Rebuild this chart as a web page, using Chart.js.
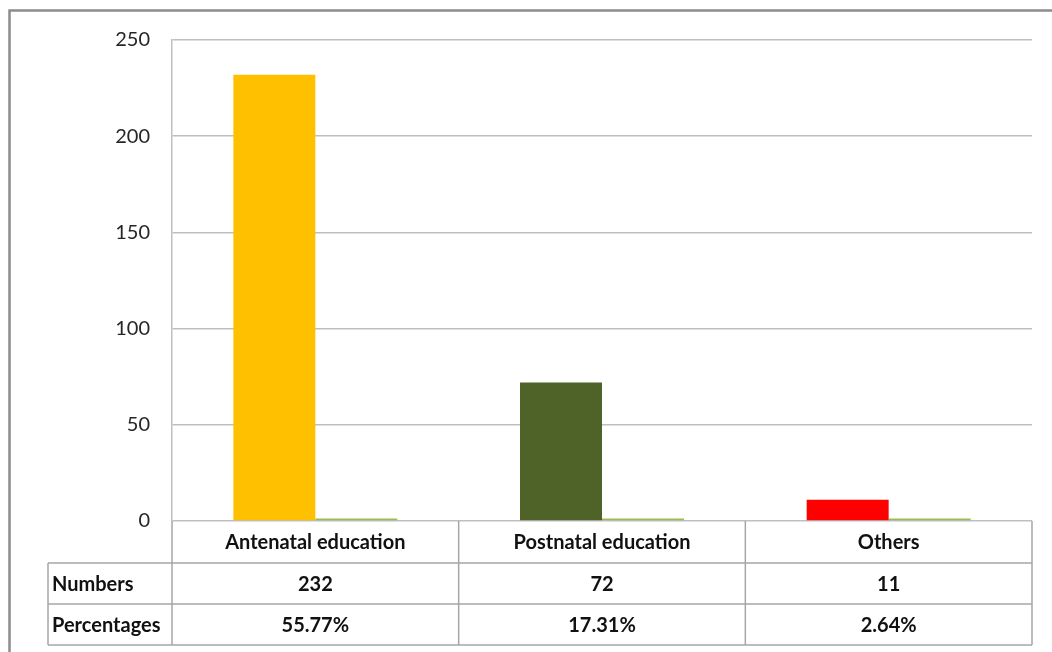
<!DOCTYPE html>
<html>
<head>
<meta charset="utf-8">
<script src="https://cdn.jsdelivr.net/npm/chart.js@4.4.1/dist/chart.umd.min.js"></script>
<style>
  html, body { margin: 0; padding: 0; background: #ffffff; }
  #wrap { width: 1052px; height: 652px; position: relative; }
</style>
</head>
<body>
<div id="wrap"><canvas id="eduChart"></canvas></div>
<script>
// Chart data
const categories = ['Antenatal education', 'Postnatal education', 'Others'];
const numbers = [232, 72, 11];
const percentages = [55.77, 17.31, 2.64];
const barColors = ['#FFC000', '#4F6228', '#FF0000'];
const yTicks = [0, 50, 100, 150, 200, 250];

const FONT = 'Lato, "Open Sans", sans-serif';
const gridColor = '#BFBFBF';

// Outer frame (top + left edges)
const framePlugin = {
  id: 'frame',
  beforeDraw(chart) {
    const ctx = chart.ctx;
    ctx.save();
    ctx.strokeStyle = '#8C8C8C';
    ctx.lineWidth = 2.5;
    ctx.beginPath();
    ctx.moveTo(9.5, 652);
    ctx.lineTo(9.5, 10.5);
    ctx.lineTo(1052, 10.5);
    ctx.stroke();
    ctx.restore();
  }
};

// Data table under the plot, columns follow the x scale
const dataTablePlugin = {
  id: 'dataTable',
  afterDraw(chart) {
    const ctx = chart.ctx;
    const area = chart.chartArea;
    const x = chart.scales.x;
    const colW = (area.right - area.left) / categories.length;
    const edges = categories.map((c, i) => area.left + i * colW);
    edges.push(area.right);
    const labelLeft = 48;
    const rows = [area.bottom, area.bottom + 42, area.bottom + 83, area.bottom + 124];

    ctx.save();
    ctx.strokeStyle = '#A6A6A6';
    ctx.lineWidth = 1.5;
    ctx.beginPath();
    // header row (category names)
    ctx.moveTo(area.left, rows[0]); ctx.lineTo(area.left, rows[3]);
    ctx.moveTo(area.right, rows[0]); ctx.lineTo(area.right, rows[3]);
    edges.slice(1, -1).forEach(e => { ctx.moveTo(e, rows[0]); ctx.lineTo(e, rows[3]); });
    ctx.moveTo(labelLeft, rows[1]); ctx.lineTo(area.right, rows[1]);
    ctx.moveTo(labelLeft, rows[2]); ctx.lineTo(area.right, rows[2]);
    ctx.moveTo(labelLeft, rows[3]); ctx.lineTo(area.right, rows[3]);
    ctx.moveTo(labelLeft, rows[1]); ctx.lineTo(labelLeft, rows[3]);
    ctx.stroke();

    ctx.fillStyle = '#111111';
    ctx.font = 'bold 20px ' + FONT;
    ctx.textBaseline = 'middle';
    ctx.textAlign = 'center';
    categories.forEach((c, i) => {
      const cx = x.getPixelForValue(i);
      ctx.fillText(c, cx, (rows[0] + rows[1]) / 2 + 1);
      ctx.fillText(String(numbers[i]), cx, (rows[1] + rows[2]) / 2 + 1);
      ctx.fillText(percentages[i].toFixed(2) + '%', cx, (rows[2] + rows[3]) / 2 + 1);
    });
    ctx.textAlign = 'left';
    ctx.fillText('Numbers', labelLeft + 4, (rows[1] + rows[2]) / 2 + 1);
    ctx.fillText('Percentages', labelLeft + 4, (rows[2] + rows[3]) / 2 + 1);
    ctx.restore();
  }
};

const ctx = document.getElementById('eduChart');

new Chart(ctx, {
  type: 'bar',
  data: {
    labels: categories,
    datasets: [
      {
        label: 'Numbers',
        data: numbers,
        backgroundColor: barColors,
        borderWidth: 0
      },
      {
        // percentages share the count axis, so they sit as thin slivers
        label: 'Percentages',
        data: percentages.map(p => p / 100),
        backgroundColor: '#9BBB59',
        borderColor: '#9BBB59',
        borderWidth: 0,
        minBarLength: 2.5
      }
    ]
  },
  options: {
    responsive: true,
    maintainAspectRatio: false,
    animation: false,
    layout: {
      padding: { left: 0, top: 40, right: 20, bottom: 131 }
    },
    datasets: {
      bar: { categoryPercentage: 0.572, barPercentage: 1.0 }
    },
    scales: {
      x: {
        display: false
      },
      y: {
        min: 0,
        max: 250,
        afterBuildTicks(axis) {
          axis.ticks = yTicks.map(v => ({ value: v }));
        },
        afterFit(axis) {
          axis.width = 172;
        },
        grid: {
          color: gridColor,
          lineWidth: 1.5,
          drawTicks: false
        },
        border: { display: true, color: gridColor, width: 1.5 },
        ticks: {
          color: '#262626',
          padding: 22,
          font: { family: FONT, size: 20 }
        }
      }
    },
    plugins: {
      legend: { display: false },
      tooltip: { enabled: false }
    }
  },
  plugins: [framePlugin, dataTablePlugin]
});
</script>
</body>
</html>
